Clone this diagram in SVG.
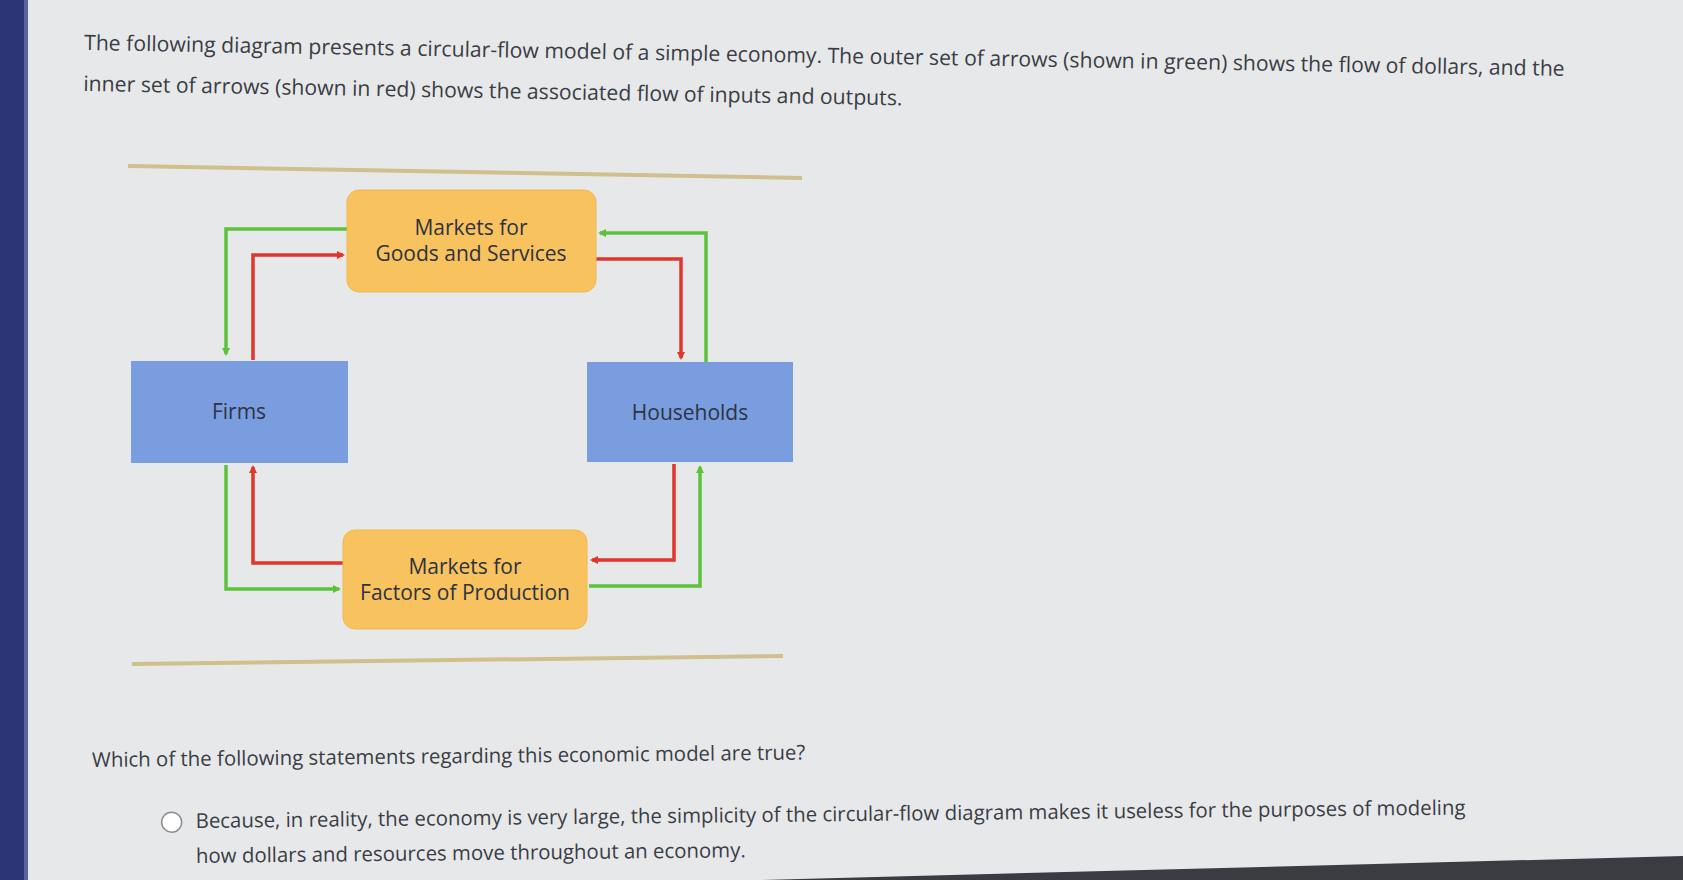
<svg xmlns="http://www.w3.org/2000/svg" width="1683" height="880" viewBox="0 0 1683 880">
<defs>
<marker id="ag" markerWidth="8" markerHeight="8" refX="6" refY="4" orient="auto" markerUnits="userSpaceOnUse"><path d="M0,0 L8,4 L0,8 Z" fill="#5cc23a"/></marker>
<marker id="ar" markerWidth="8" markerHeight="8" refX="6" refY="4" orient="auto" markerUnits="userSpaceOnUse"><path d="M0,0 L8,4 L0,8 Z" fill="#e0362c"/></marker>
</defs>
<style>
text{font-family:"Open Sans","Liberation Sans",sans-serif;fill:#3a3d44}
.p{font-size:21.2px}
.q{font-size:20.4px}
.n{font-size:21px;text-anchor:middle;fill:#2e3340}
.o{fill:#f8c25e;stroke:#f4b84c}
.b{fill:#7a9de0}
.g{fill:none;stroke:#5cc23a;stroke-width:3.5}
.r{fill:none;stroke:#e0362c;stroke-width:3.5}
.rule{stroke:#cfc08e;stroke-width:4}
</style>
<rect width="1683" height="880" fill="#e7e8ea"/>
<rect x="0" y="0" width="24" height="880" fill="#2c3576"/>
<rect x="24" y="0" width="4" height="880" fill="#5a63a0"/>
<path d="M760,880 L1683,856 L1683,880 Z" fill="#3a3c42"/>
<g transform="rotate(1 84 48)">
<text class="p" x="84" y="50">The following diagram presents a circular-flow model of a simple economy. The outer set of arrows (shown in green) shows the flow of dollars, and the</text>
<text class="p" x="84" y="91">inner set of arrows (shown in red) shows the associated flow of inputs and outputs.</text>
</g>
<line class="rule" x1="128" y1="166" x2="802" y2="178"/>
<line class="rule" x1="132" y1="664" x2="783" y2="656"/>
<g id="connectors">
<polyline class="g" points="347,229 226,229 226,354" marker-end="url(#ag)"/>
<polyline class="r" points="253,360 253,255 343,255" marker-end="url(#ar)"/>
<polyline class="g" points="706,362 706,233 600,233" marker-end="url(#ag)"/>
<polyline class="r" points="596,259 681,259 681,358" marker-end="url(#ar)"/>
<polyline class="g" points="226,465 226,589 339,589" marker-end="url(#ag)"/>
<polyline class="r" points="343,563 253,563 253,467" marker-end="url(#ar)"/>
<polyline class="r" points="674,464 674,560 592,560" marker-end="url(#ar)"/>
<polyline class="g" points="589,586 700,586 700,467" marker-end="url(#ag)"/>
</g>
<g id="goods"><rect class="o" x="347" y="190" width="249" height="102" rx="12"/>
<text class="n" x="471" y="235">Markets for</text><text class="n" x="471" y="261">Goods and Services</text></g>
<g id="firms"><rect class="b" x="131" y="361" width="217" height="102"/><text class="n" x="239" y="419">Firms</text></g>
<g id="households"><rect class="b" x="587" y="362" width="206" height="100"/><text class="n" x="690" y="420">Households</text></g>
<g id="factors"><rect class="o" x="343" y="530" width="244" height="99" rx="12"/>
<text class="n" x="465" y="574">Markets for</text><text class="n" x="465" y="600">Factors of Production</text></g>
<g transform="rotate(-0.6 92 760)">
<text class="q" x="92" y="767">Which of the following statements regarding this economic model are true?</text>
<circle cx="171" cy="823" r="10" fill="#fff" stroke="#8a8d94" stroke-width="1.5"/>
<text class="q" x="195" y="829">Because, in reality, the economy is very large, the simplicity of the circular-flow diagram makes it useless for the purposes of modeling</text>
<text class="q" x="195" y="864">how dollars and resources move throughout an economy.</text>
</g>
</svg>
